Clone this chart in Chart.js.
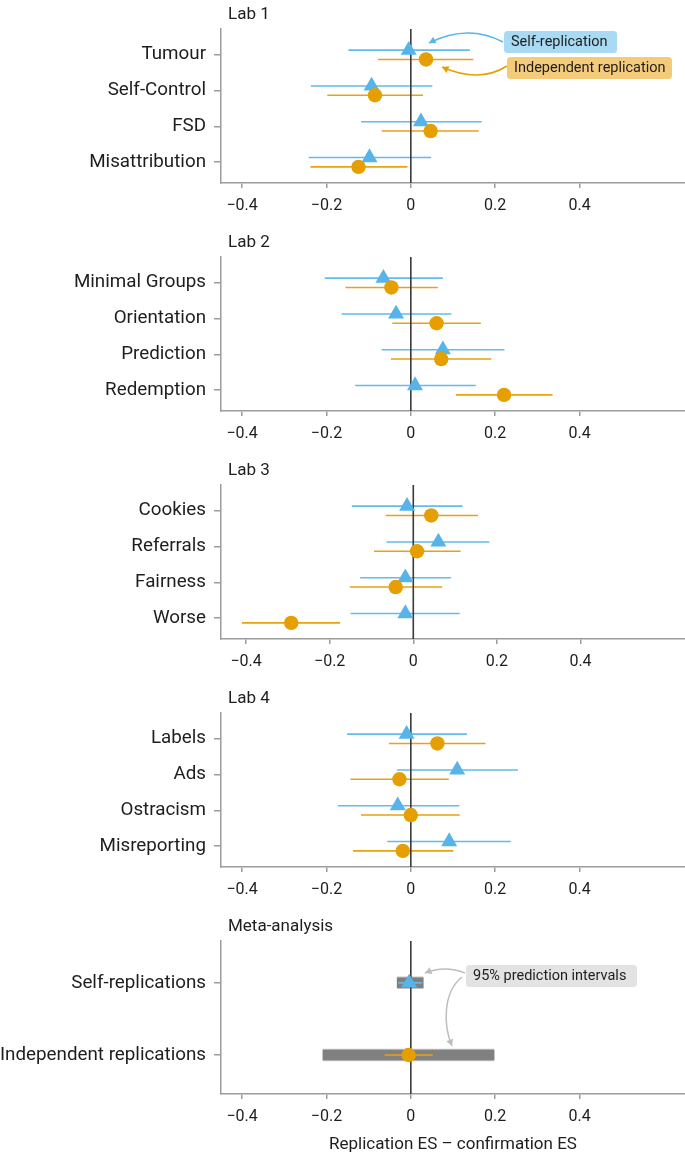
<!DOCTYPE html>
<html>
<head>
<meta charset="utf-8">
<script src="https://cdn.jsdelivr.net/npm/chart.js@4/dist/chart.umd.min.js"></script>
<style>
html,body{margin:0;padding:0;background:#ffffff;}
#wrap{position:relative;width:685px;height:1155px;overflow:hidden;background:#fff;}
canvas{position:absolute;left:0;}
</style>
</head>
<body>
<div id="wrap">
<canvas id="lab1" width="685" height="223" style="top:0px"></canvas>
<canvas id="lab2" width="685" height="223" style="top:228px"></canvas>
<canvas id="lab3" width="685" height="223" style="top:456px"></canvas>
<canvas id="lab4" width="685" height="223" style="top:684px"></canvas>
<canvas id="meta" width="685" height="243" style="top:912px"></canvas>
</div>
<script>
// ---------------- DATA ----------------
const xTickValues = [-0.4, -0.2, 0, 0.2, 0.4];
const xTickLabels = ['\u22120.4', '\u22120.2', '0', '0.2', '0.4'];

const lab1Categories = ['Tumour', 'Self-Control', 'FSD', 'Misattribution'];
const lab1SelfEst   = [-0.005, -0.093, 0.024, -0.098];
const lab1SelfLow   = [-0.148, -0.237, -0.118, -0.242];
const lab1SelfHigh  = [0.140, 0.051, 0.168, 0.048];
const lab1IndepEst  = [0.036, -0.085, 0.047, -0.124];
const lab1IndepLow  = [-0.078, -0.198, -0.069, -0.238];
const lab1IndepHigh = [0.148, 0.029, 0.161, -0.008];

const lab2Categories = ['Minimal Groups', 'Orientation', 'Prediction', 'Redemption'];
const lab2SelfEst   = [-0.065, -0.035, 0.076, 0.010];
const lab2SelfLow   = [-0.204, -0.164, -0.069, -0.132];
const lab2SelfHigh  = [0.076, 0.096, 0.222, 0.154];
const lab2IndepEst  = [-0.046, 0.061, 0.072, 0.221];
const lab2IndepLow  = [-0.155, -0.044, -0.047, 0.107];
const lab2IndepHigh = [0.064, 0.166, 0.191, 0.336];

const lab3Categories = ['Cookies', 'Referrals', 'Fairness', 'Worse'];
const lab3SelfEst   = [-0.015, 0.060, -0.019, -0.019];
const lab3SelfLow   = [-0.147, -0.064, -0.127, -0.150];
const lab3SelfHigh  = [0.118, 0.182, 0.090, 0.111];
const lab3IndepEst  = [0.043, 0.009, -0.042, -0.292];
const lab3IndepLow  = [-0.066, -0.094, -0.152, -0.410];
const lab3IndepHigh = [0.155, 0.113, 0.069, -0.175];

const lab4Categories = ['Labels', 'Ads', 'Ostracism', 'Misreporting'];
const lab4SelfEst   = [-0.010, 0.110, -0.031, 0.091];
const lab4SelfLow   = [-0.151, -0.033, -0.173, -0.056];
const lab4SelfHigh  = [0.133, 0.254, 0.115, 0.237];
const lab4IndepEst  = [0.063, -0.027, 0.000, -0.019];
const lab4IndepLow  = [-0.052, -0.143, -0.118, -0.137];
const lab4IndepHigh = [0.177, 0.090, 0.116, 0.101];

const metaCategories = ['Self-replications', 'Independent replications'];
const metaEst    = [-0.004, -0.005];
const metaCILow  = [-0.030, -0.062];
const metaCIHigh = [0.027, 0.052];
const metaPILow  = [-0.033, -0.209];
const metaPIHigh = [0.030, 0.198];

// ---------------- STYLE ----------------
const FONT = "Roboto, 'Liberation Sans', Arial, sans-serif";
const BLUE = '#56B4E9';
const BLUE_LINE = '#62BCEC';
const ORANGE = '#E69F00';
const ORANGE_LINE = '#E8A212';
const AXIS_GRAY = '#9c9c9c';
const ZERO_COLOR = '#3a3a3a';
const TEXT = '#1e1e1e';

function segs(lows, highs, ys) {
  const out = [];
  lows.forEach((lo, i) => {
    out.push({x: lo, y: ys[i]}, {x: highs[i], y: ys[i]}, {x: null, y: null});
  });
  return out;
}
function pts(est, ys) { return est.map((v, i) => ({x: v, y: ys[i]})); }

const panelTitle = {
  id: 'panelTitle',
  afterDraw(chart, args, opts) {
    const {ctx, chartArea} = chart;
    ctx.save();
    ctx.font = '17px ' + FONT;
    ctx.fillStyle = TEXT;
    ctx.textBaseline = 'middle';
    ctx.textAlign = 'left';
    ctx.fillText(opts.text, chartArea.left + 7, chartArea.top - 14);
    ctx.restore();
  }
};

function roundRect(ctx, x, y, w, h, r) {
  ctx.beginPath();
  ctx.moveTo(x + r, y);
  ctx.lineTo(x + w - r, y);
  ctx.quadraticCurveTo(x + w, y, x + w, y + r);
  ctx.lineTo(x + w, y + h - r);
  ctx.quadraticCurveTo(x + w, y + h, x + w - r, y + h);
  ctx.lineTo(x + r, y + h);
  ctx.quadraticCurveTo(x, y + h, x, y + h - r);
  ctx.lineTo(x, y + r);
  ctx.quadraticCurveTo(x, y, x + r, y);
  ctx.closePath();
}
function arrowHead(ctx, tx, ty, fromX, fromY, color) {
  const a = Math.atan2(ty - fromY, tx - fromX);
  const L = 6.5, W = 3.6;
  ctx.beginPath();
  ctx.moveTo(tx, ty);
  ctx.lineTo(tx - L * Math.cos(a) + W * Math.sin(a), ty - L * Math.sin(a) - W * Math.cos(a));
  ctx.lineTo(tx - L * Math.cos(a) - W * Math.sin(a), ty - L * Math.sin(a) + W * Math.cos(a));
  ctx.closePath();
  ctx.fillStyle = color;
  ctx.fill();
}
function quadArrow(ctx, p0, c, p2, color) {
  ctx.beginPath();
  ctx.moveTo(p0[0], p0[1]);
  ctx.quadraticCurveTo(c[0], c[1], p2[0], p2[1]);
  ctx.strokeStyle = color;
  ctx.lineWidth = 1.5;
  ctx.stroke();
  arrowHead(ctx, p2[0], p2[1], c[0], c[1], color);
}
function labelBox(ctx, x, y, w, h, fill, text) {
  ctx.save();
  roundRect(ctx, x, y, w, h, 3.5);
  ctx.fillStyle = fill;
  ctx.fill();
  ctx.font = '14.5px ' + FONT;
  ctx.fillStyle = TEXT;
  ctx.textBaseline = 'middle';
  ctx.textAlign = 'left';
  ctx.fillText(text, x + 7, y + h / 2 + 0.5);
  ctx.restore();
}

const lab1Callouts = {
  id: 'lab1Callouts',
  afterDraw(chart) {
    const ctx = chart.ctx;
    ctx.save();
    quadArrow(ctx, [503, 42], [468, 23.5], [429, 43], BLUE);
    quadArrow(ctx, [507, 66], [479.5, 83.5], [442, 67], ORANGE);
    labelBox(ctx, 504, 31, 113, 22, '#A8DAF4', 'Self-replication');
    labelBox(ctx, 507, 57, 165, 22, '#F3CB7A', 'Independent replication');
    ctx.restore();
  }
};

const metaCallouts = {
  id: 'metaCallouts',
  afterDraw(chart) {
    const ctx = chart.ctx;
    const off = 912;
    const g = '#bdbdbd';
    ctx.save();
    quadArrow(ctx, [465, 973 - off], [445, 965 - off], [425, 973 - off], g);
    ctx.beginPath();
    ctx.moveTo(462, 977 - off);
    ctx.bezierCurveTo(443, 992 - off, 443, 1025 - off, 452, 1046 - off);
    ctx.strokeStyle = g; ctx.lineWidth = 1.5; ctx.stroke();
    arrowHead(ctx, 452, 1046 - off, 446, 1030 - off, g);
    labelBox(ctx, 466, 965 - off, 171, 22, '#E3E3E3', '95% prediction intervals');
    ctx.restore();
  }
};

function makeScales(categories, yMin, yMax, xMin, xHeight, withTitle) {
  return {
    x: {
      type: 'linear', min: xMin, max: 0.65,
      afterBuildTicks: s => { s.ticks = xTickValues.map(v => ({value: v})); },
      afterFit: s => { s.height = xHeight; },
      ticks: {
        autoSkip: false, maxRotation: 0, padding: 8, color: TEXT,
        font: {family: FONT, size: 16},
        callback: (v, i) => xTickLabels[i]
      },
      grid: {drawOnChartArea: false, drawTicks: true, tickLength: 5, color: AXIS_GRAY, lineWidth: 1.5},
      border: {display: true, color: AXIS_GRAY, width: 1.5},
      title: withTitle ? {
        display: true, text: 'Replication ES \u2013 confirmation ES', color: TEXT,
        font: {family: FONT, size: 17}, padding: {top: 0, bottom: 0}
      } : {display: false}
    },
    y: {
      type: 'linear', reverse: true, min: yMin, max: yMax,
      afterBuildTicks: s => { s.ticks = categories.map((c, i) => ({value: i})); },
      afterFit: s => { s.width = 221; },
      ticks: {
        autoSkip: false, padding: 8, color: TEXT,
        font: {family: FONT, size: 18.8},
        callback: v => categories[v]
      },
      grid: {drawOnChartArea: false, drawTicks: true, tickLength: 7, color: AXIS_GRAY, lineWidth: 1.5},
      border: {display: true, color: AXIS_GRAY, width: 1.5}
    }
  };
}

function lineDs(data, color, width, order) {
  return {data, showLine: true, borderColor: color, borderWidth: width, pointRadius: 0,
          pointHoverRadius: 0, spanGaps: false, tension: 0, order, borderCapStyle: 'butt'};
}
function pointDs(data, color, style, radius, order) {
  return {data, showLine: false, pointStyle: style, pointRadius: radius, pointHoverRadius: radius,
          pointBackgroundColor: color, backgroundColor: color, pointBorderWidth: 0, borderWidth: 0, order};
}

const baseLayout = {autoPadding: false, padding: {top: 29, left: 0, right: 0, bottom: 0}};

function labPanel(id, title, cats, sE, sL, sH, iE, iL, iH, xMin, extraPlugins) {
  const yMin = -0.72, yMax = 3.58, off = 0.13;
  const ySelf = cats.map((c, i) => i - off);
  const yInd = cats.map((c, i) => i + off);
  const datasets = [
    lineDs(segs(sL, sH, ySelf), BLUE_LINE, 1.6, 4),
    lineDs(segs(iL, iH, yInd), ORANGE_LINE, 1.6, 4),
    lineDs([{x: 0, y: yMin}, {x: 0, y: yMax}], ZERO_COLOR, 1.6, 3),
    pointDs(pts(sE, ySelf), BLUE, 'triangle', 9.2, 1),
    pointDs(pts(iE, yInd), ORANGE, 'circle', 7.2, 0)
  ];
  return new Chart(document.getElementById(id), {
    type: 'scatter',
    data: {datasets},
    options: {
      responsive: false, animation: false, events: [],
      layout: baseLayout,
      scales: makeScales(cats, yMin, yMax, xMin, 40, false),
      plugins: {legend: {display: false}, tooltip: {enabled: false}, panelTitle: {text: title}}
    },
    plugins: [panelTitle].concat(extraPlugins || [])
  });
}

labPanel('lab1', 'Lab 1', lab1Categories, lab1SelfEst, lab1SelfLow, lab1SelfHigh,
         lab1IndepEst, lab1IndepLow, lab1IndepHigh, -0.45, [lab1Callouts]);
labPanel('lab2', 'Lab 2', lab2Categories, lab2SelfEst, lab2SelfLow, lab2SelfHigh,
         lab2IndepEst, lab2IndepLow, lab2IndepHigh, -0.45);
labPanel('lab3', 'Lab 3', lab3Categories, lab3SelfEst, lab3SelfLow, lab3SelfHigh,
         lab3IndepEst, lab3IndepLow, lab3IndepHigh, -0.46);
labPanel('lab4', 'Lab 4', lab4Categories, lab4SelfEst, lab4SelfLow, lab4SelfHigh,
         lab4IndepEst, lab4IndepLow, lab4IndepHigh, -0.45);

// Meta-analysis panel
(function () {
  const yMin = -0.58, yMax = 1.54;
  const ys = metaCategories.map((c, i) => i);
  const datasets = [
    lineDs(segs(metaPILow, metaPIHigh, ys), '#c4c4c4', 12.5, 7),
    lineDs(segs(metaPILow, metaPIHigh, ys), '#808080', 10.5, 6),
    lineDs(segs([metaCILow[0]], [metaCIHigh[0]], [ys[0]]), BLUE_LINE, 1.6, 5),
    lineDs(segs([metaCILow[1]], [metaCIHigh[1]], [ys[1]]), ORANGE_LINE, 1.6, 5),
    lineDs([{x: 0, y: yMin}, {x: 0, y: yMax}], ZERO_COLOR, 1.6, 3),
    pointDs([{x: metaEst[0], y: ys[0]}], BLUE, 'triangle', 9.2, 1),
    pointDs([{x: metaEst[1], y: ys[1]}], ORANGE, 'circle', 7.2, 0)
  ];
  new Chart(document.getElementById('meta'), {
    type: 'scatter',
    data: {datasets},
    options: {
      responsive: false, animation: false, events: [],
      layout: baseLayout,
      scales: makeScales(metaCategories, yMin, yMax, -0.45, 61, true),
      plugins: {legend: {display: false}, tooltip: {enabled: false}, panelTitle: {text: 'Meta-analysis'}}
    },
    plugins: [panelTitle, metaCallouts]
  });
})();
</script>
</body>
</html>
